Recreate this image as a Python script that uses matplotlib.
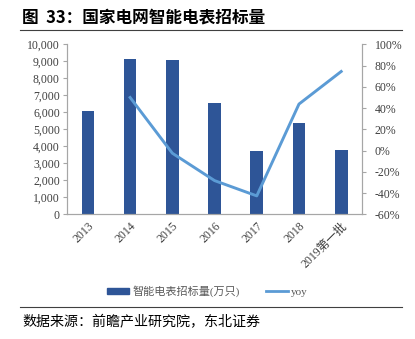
import matplotlib.pyplot as plt
from matplotlib.ticker import FuncFormatter
from matplotlib.lines import Line2D
from matplotlib.patches import Patch

plt.rcParams['font.family'] = ['Liberation Serif', 'Noto Sans CJK SC']

years = ['2013', '2014', '2015', '2016', '2017', '2018', '2019第一批']
volume = [6060, 9120, 9080, 6550, 3740, 5370, 3780]   # 万只
yoy = [None, 50.0, -2.5, -28.3, -42.7, 43.8, 74.5]     # %

bar_color = '#2E5597'
line_color = '#5B9BD5'
grey = '#A6A6A6'

fig = plt.figure(figsize=(4.15, 3.39), dpi=100)
ax = fig.add_axes([0.161, 0.368, 0.712, 0.501])
ax2 = ax.twinx()

x = list(range(len(years)))
ax.bar(x, volume, width=0.3, color=bar_color, zorder=2)
ax.set_xlim(-0.5, len(years) - 0.5)
ax.set_ylim(0, 10000)
ax.set_yticks(range(0, 10001, 1000))
ax.yaxis.set_major_formatter(FuncFormatter(lambda v, p: f'{int(v):,}'))

px = [i for i, v in zip(x, yoy) if v is not None]
py = [v for v in yoy if v is not None]
ax2.plot(px, py, color=line_color, lw=2.1, zorder=3)
ax2.set_ylim(-60, 100)
ax2.set_yticks(range(-60, 101, 20))
ax2.yaxis.set_major_formatter(FuncFormatter(lambda v, p: f'{int(v)}%'))

ax.set_xticks(x)
ax.set_xticklabels(years, rotation=45, ha='right', rotation_mode='anchor')
for a in (ax, ax2):
    a.spines['top'].set_visible(False)
    for s in ('left', 'right', 'bottom'):
        a.spines[s].set_color(grey)
        a.spines[s].set_linewidth(0.8)
    a.tick_params(axis='y', length=3, color=grey, labelsize=8.5, labelcolor='#404040', pad=2)
ax.tick_params(axis='x', length=0, labelsize=8.5, labelcolor='#404040', pad=4)
ax2.tick_params(axis='y', pad=6)

# 标题与横线
fig.text(0.053, 0.948, '图  33：国家电网智能电表招标量', fontsize=12, fontweight='bold',
         family=['Noto Sans CJK SC'], va='center')
fig.add_artist(Line2D([0.048, 0.968], [0.912, 0.912], color='#404040', lw=0.8))

# 图例
handles = [Patch(color=bar_color), Line2D([0], [0], color=line_color, lw=2)]
leg = fig.legend(handles, ['智能电表招标量(万只)', 'yoy'], loc='center', ncol=2,
                 bbox_to_anchor=(0.5, 0.141), frameon=False,
                 handlelength=2.0, handleheight=0.45, columnspacing=2.4, handletextpad=0.25,
                 prop={'family': ['Liberation Serif', 'Noto Sans CJK SC'], 'size': 8})
for t in leg.get_texts():
    t.set_color('#595959')

fig.add_artist(Line2D([0.048, 0.968], [0.094, 0.094], color='#404040', lw=0.8))
fig.text(0.053, 0.049, '数据来源：前瞻产业研究院，东北证券', fontsize=10.1,
         family=['Noto Sans CJK SC'], va='center')

fig.savefig('out.png', dpi=100)
